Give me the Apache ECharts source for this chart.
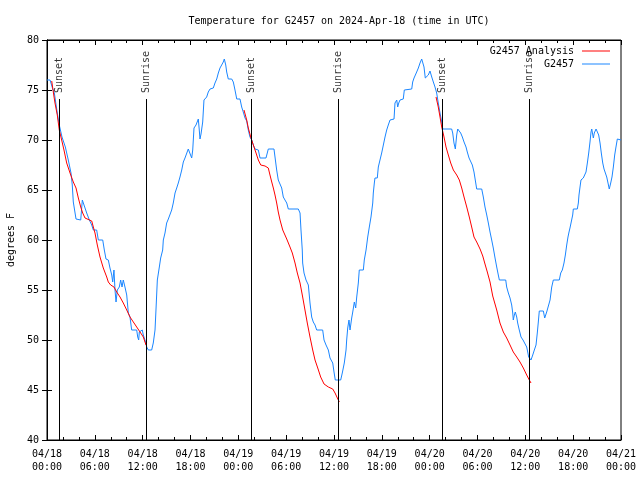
<!DOCTYPE html>
<html>
<head>
<meta charset="utf-8">
<script src="https://cdn.jsdelivr.net/npm/echarts@6/dist/echarts.min.js"></script>
<style>html,body{margin:0;padding:0;background:#fff;}#chart{width:640px;height:480px;}</style>
</head>
<body>
<div id="chart"></div>
<script>
// Hours since 2024-04-18 00:00 UTC
const obsHours = [0,0.38,0.72,0.92,1.29,1.54,1.88,2.30,2.67,3.01,3.17,3.30,3.64,4.23,4.43,4.77,4.98,5.31,5.61,5.81,6.23,6.44,6.99,7.19,7.40,7.69,7.90,8.12,8.24,8.40,8.53,8.66,8.82,9.07,9.24,9.41,9.57,9.78,10.00,10.20,10.41,10.62,11.25,11.38,11.50,11.58,11.79,11.95,12.08,12.29,12.51,12.71,13.13,13.33,13.55,13.67,13.84,14.09,14.26,14.51,14.59,14.80,15.01,15.22,15.43,15.64,15.84,16.06,16.27,16.47,16.68,16.90,17.10,17.31,17.52,17.72,17.94,18.15,18.28,18.44,18.69,18.98,19.10,19.19,19.32,19.53,19.69,20.03,20.23,20.45,20.86,21.07,21.29,21.49,21.70,21.91,22.11,22.24,22.42,22.54,22.74,23.17,23.37,23.58,23.80,24.21,24.42,24.62,24.84,25.05,25.25,25.46,25.68,25.88,26.09,26.51,26.72,27.47,27.76,28.47,28.60,28.81,29.01,29.23,29.44,29.64,29.85,30.07,30.27,31.52,31.74,31.86,32.02,32.07,32.24,32.49,32.78,32.99,33.20,33.40,33.62,33.83,34.58,34.75,35.00,35.29,35.50,35.84,36.00,36.16,36.84,37.04,37.29,37.51,37.59,37.72,37.88,38.01,38.22,38.35,38.55,38.72,38.85,39.05,39.17,39.68,39.80,40.02,40.23,40.43,40.64,40.86,40.93,41.06,41.14,41.43,41.56,41.77,41.98,42.19,42.40,42.61,42.81,43.03,43.53,43.65,43.87,43.99,44.12,44.28,44.69,44.82,45.03,45.75,45.87,46.04,46.37,46.58,46.79,47.00,47.20,47.29,47.45,47.70,47.83,48.04,48.26,48.46,48.67,48.88,49.08,49.30,49.51,49.64,50.76,50.89,51.05,51.22,51.39,51.52,51.72,51.89,52.10,52.31,52.56,52.72,52.94,53.15,53.35,53.56,53.72,53.90,54.53,54.73,54.94,55.16,55.36,55.57,55.78,55.98,56.20,56.41,56.61,56.74,57.54,57.66,57.87,58.08,58.29,58.42,58.49,58.62,58.74,58.92,59.04,59.24,59.46,59.71,59.96,60.17,60.30,60.42,60.59,60.71,60.93,61.13,61.34,61.50,61.63,61.75,62.26,62.43,62.68,62.93,63.10,63.31,63.51,64.26,64.44,64.64,64.85,65.02,65.19,65.35,65.48,65.60,65.82,65.94,66.02,66.52,66.65,66.73,66.86,66.98,67.27,67.49,67.61,67.78,67.95,68.11,68.24,68.33,68.53,68.65,68.87,69.08,69.20,69.37,69.53,69.71,69.87,70.03,70.21,70.37,70.53,70.71,70.87,71.04,71.21,71.37,71.54,72.00];
const obsTemps = [76,76,75.1,74.7,72.7,71.5,70.3,69.3,68,66.7,65.5,63.8,62.1,62,64,63.2,62.7,62,61.5,61,61,60,60,59,58.1,58,57.2,56.5,55.8,57,55,53.8,55,55.3,56,55.3,56,55.3,54.5,52.7,52.3,51,51,50.3,50,50.8,51,51,50.5,50,49.3,49,49,49.7,51,53,56,57.3,58.2,59,60,60.7,61.7,62.1,62.2,63,63.7,64.7,65.2,65.7,66.3,67,67.8,68.2,68.3,69.1,69.1,68.2,69,71.2,71.5,72.1,71,70.1,70.6,71.8,74,74.3,74.8,75.1,75.2,75.7,76.1,76.7,77.2,77.5,77.8,78.1,77.5,76.8,76.1,76.1,75.8,75,74.1,74.1,73.3,72.8,72.2,71.9,71,70.3,70,69.5,69.1,69,68.2,68.2,69.1,69.1,68.3,67,66,65.9,65.2,64.3,64,63.7,63.1,63.1,62.7,61,59,57.7,56.7,56,55.5,53.7,52.3,51.8,51.5,51,51,50,49.5,49,48.2,47.7,46.8,46,46,46.7,47.7,49,50,51.2,52,51,52.2,52.8,53.8,53.2,54.3,55.7,57,57,58,59,60.3,61.3,62.3,63.7,64.7,65.7,66.2,66.2,67.3,68,68.7,69.5,70.3,71,71.5,72,72.1,73.7,74,73.3,73.7,74,74.1,75,75.1,75.1,75.8,76.2,76.8,77.2,77.7,78.1,78,77.3,76.2,76.2,76.5,76.9,76.3,75.8,75.3,74.7,73.7,72.7,71.8,71.1,71.1,70.7,69.7,69.1,70.5,71.1,71.1,70.7,70.3,69.8,69.3,68.8,68.2,68,67.5,66.8,66,65.1,65.1,64.3,63.3,62.5,61.7,60.8,60,59.2,58.2,57.3,56.5,56,56,55.3,54.7,54.2,53.5,52.7,52,52.5,52.8,52.3,51.7,51,50.3,50,49.9,49.3,48.8,48.3,48.2,48,48.5,49,49.5,50.7,51.8,52.9,52.9,52.2,52.8,53,54,55.3,56,56,56.7,57,57.7,58.5,59.5,60.3,60.8,61.2,61.2,62.5,63.1,63.1,63.7,64.5,65.3,66,66.2,66.4,66.8,67.7,68.7,69.8,70.8,71.1,70.2,70.7,71.1,71.1,70.5,69.7,68.7,67.7,67.1,67,66.3,65.7,65.1,65.7,66.3,67.3,68.5,69.3,70.1,70];

// Analysis (null = gap between nightly runs)
const anaHours = [0.59,0.79,1.00,1.29,1.54,1.84,2.13,2.47,2.89,3.30,3.64,3.93,4.23,4.48,4.77,5.61,5.81,6.02,6.31,6.65,7.06,7.49,7.69,7.99,8.40,8.74,9.16,9.57,10.00,10.41,10.83,11.25,11.67,12.08,12.42,
  18,
  24.71,25.05,25.25,25.59,25.88,26.22,26.51,26.81,27.35,27.76,27.97,28.19,28.39,28.60,28.81,29.01,29.23,29.57,30.07,30.48,30.77,31.11,31.40,31.74,32.07,32.36,32.65,32.99,33.33,33.62,33.96,34.33,34.75,35.29,35.84,36.13,36.42,36.67,
  42,
  48.80,49.08,49.30,49.51,49.80,50.05,50.34,50.64,50.97,51.39,51.72,52.02,52.31,52.65,52.97,53.27,53.56,53.90,54.32,54.66,54.94,55.23,55.57,55.91,56.41,56.82,57.24,57.66,58.08,58.49,58.92,59.33,59.75,60.17,60.50,60.71];
const anaTemps = [75.9,74.8,73.7,72.5,71,70,69,67.7,66.7,65.8,65.2,64.2,63.3,62.7,62.2,61.9,61.3,60.7,59.5,58.3,57.2,56.3,55.8,55.5,55.3,54.8,54.3,53.7,53,52.3,51.8,51.3,50.8,50.3,49.5,
  null,
  73,72,71.2,70.2,69.5,68.7,68,67.5,67.4,67.2,66.5,65.8,65.2,64.5,63.7,62.8,62,61,60.1,59.3,58.7,57.7,56.7,55.7,54.3,53,51.7,50.3,49,48,47.2,46.3,45.6,45.3,45.1,44.7,44.2,43.8,
  null,
  74.3,73.3,72.3,71.3,70.3,69.3,68.5,67.7,67,66.5,66,65.2,64.3,63.3,62.3,61.3,60.3,59.8,59.1,58.4,57.6,56.8,55.8,54.4,53,51.7,50.8,50.2,49.5,48.8,48.3,47.8,47.2,46.5,46,45.7];

const sunHours = [1.54, 12.42, 25.63, 36.56, 49.58, 60.50];
const sunLabels = ['Sunset', 'Sunrise', 'Sunset', 'Sunrise', 'Sunset', 'Sunrise'];
const sunLineTop = 74.1;

const xTickLabels = ['04/18\n00:00','04/18\n06:00','04/18\n12:00','04/18\n18:00','04/19\n00:00','04/19\n06:00','04/19\n12:00','04/19\n18:00','04/20\n00:00','04/20\n06:00','04/20\n12:00','04/20\n18:00','04/21\n00:00'];

const FONT = 'DejaVu Sans Mono';
const obsData = obsHours.map((h, i) => [h, obsTemps[i]]);
const anaData = anaHours.map((h, i) => [h, anaTemps[i] === null ? '-' : anaTemps[i]]);

const chart = echarts.init(document.getElementById('chart'), null, {renderer: 'canvas'});
const axisCommonX = {
  type: 'value', min: 0, max: 72, interval: 6,
  axisLine: {show: true, lineStyle: {color: '#000', width: 1}},
  axisTick: {show: true, inside: true, length: 5, lineStyle: {color: '#000'}},
  minorTick: {show: true, splitNumber: 3, length: 3, lineStyle: {color: '#000'}},
  splitLine: {show: false}
};
const axisCommonY = {
  type: 'value', min: 40, max: 80, interval: 5,
  axisLine: {show: true, lineStyle: {color: '#000', width: 1}},
  axisTick: {show: true, inside: true, length: 5, lineStyle: {color: '#000'}},
  splitLine: {show: false}
};

chart.setOption({
  animation: false,
  backgroundColor: '#fff',
  title: {
    text: 'Temperature for G2457 on 2024-Apr-18 (time in UTC)',
    left: 334, top: 11, textAlign: 'center',
    textStyle: {fontFamily: FONT, fontSize: 10, fontWeight: 'normal', color: '#000'}
  },
  legend: {
    right: 30, top: 45, orient: 'vertical', align: 'right', padding: 0,
    itemWidth: 28, itemHeight: 1, itemGap: 1,
    icon: 'rect',
    textStyle: {fontFamily: FONT, fontSize: 10, color: '#000', lineHeight: 12, padding: [0, 3, 0, 0]},
    data: [{name: 'G2457 Analysis'}, {name: 'G2457'}]
  },
  grid: {left: 47, right: 19, top: 40, bottom: 40, show: true, borderColor: '#000', borderWidth: 1, containLabel: false, outerBoundsMode: 'none'},
  xAxis: [
    Object.assign({}, axisCommonX, {
      position: 'bottom',
      axisLabel: {
        fontFamily: FONT, fontSize: 10, color: '#000', margin: 8, lineHeight: 13,
        formatter: (v) => xTickLabels[Math.round(v / 6)]
      }
    }),
    Object.assign({}, axisCommonX, {position: 'top', axisLabel: {show: false}})
  ],
  yAxis: [
    Object.assign({}, axisCommonY, {
      position: 'left',
      name: 'degrees F', nameLocation: 'middle', nameRotate: 90, nameGap: 30,
      nameTextStyle: {fontFamily: FONT, fontSize: 10, color: '#000'},
      axisLabel: {fontFamily: FONT, fontSize: 10, color: '#000', margin: 8}
    }),
    Object.assign({}, axisCommonY, {position: 'right', axisLabel: {show: false}})
  ],
  series: [
    {
      name: 'G2457', type: 'line', data: obsData, showSymbol: false, symbol: 'none',
      lineStyle: {color: '#1a86ff', width: 1}, itemStyle: {color: '#1a86ff'}, z: 3
    },
    {
      name: 'G2457 Analysis', type: 'line', data: anaData, showSymbol: false, symbol: 'none',
      connectNulls: false,
      lineStyle: {color: '#ff0000', width: 1}, itemStyle: {color: '#ff0000'}, z: 4
    },
    {
      name: 'sun', type: 'line', data: [], silent: true,
      markLine: {
        silent: true, symbol: 'none', animation: false,
        lineStyle: {color: '#000', width: 1, type: 'solid'},
        label: {show: false},
        data: sunHours.map(h => [{coord: [h, 40]}, {coord: [h, sunLineTop]}])
      }
    },
    {
      name: 'sunLabels', type: 'scatter', symbolSize: 0, silent: true, z: 5,
      data: sunHours.map((h, i) => ({value: [h, sunLineTop], name: sunLabels[i]})),
      label: {
        show: true, position: 'top', distance: 6, rotate: 90,
        align: 'left', verticalAlign: 'middle',
        formatter: (p) => p.name,
        fontFamily: FONT, fontSize: 10, color: '#000'
      }
    }
  ]
});
</script>
</body>
</html>
